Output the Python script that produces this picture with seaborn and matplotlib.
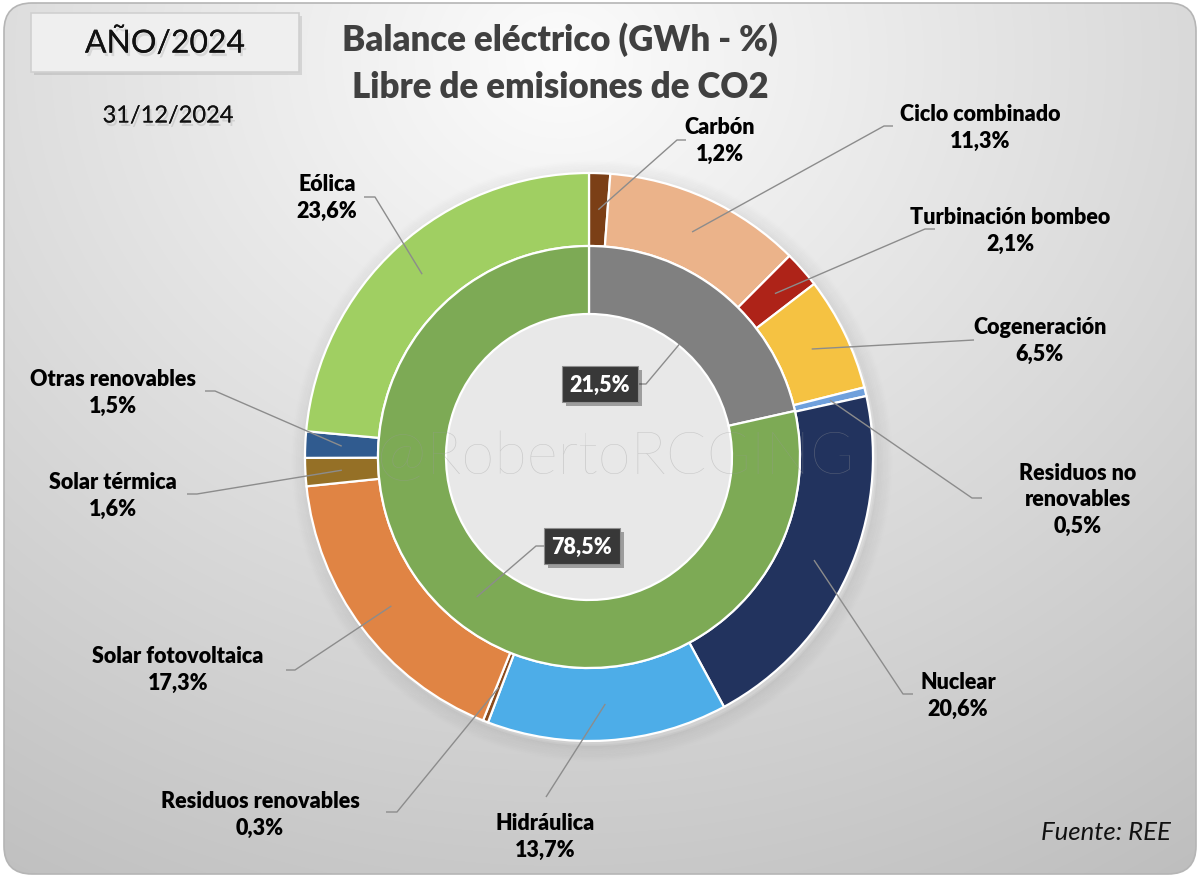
import numpy as np
import matplotlib
matplotlib.use("Agg")
import matplotlib.pyplot as plt
import matplotlib.patheffects as pe
from matplotlib.patches import FancyBboxPatch, Circle
import seaborn as sns

# ---------------- data ----------------
outer_labels = ["Carbón", "Ciclo combinado", "Turbinación bombeo", "Cogeneración",
                "Residuos no\nrenovables", "Nuclear", "Hidráulica", "Residuos renovables",
                "Solar fotovoltaica", "Solar térmica", "Otras renovables", "Eólica"]
outer_values = [1.2, 11.3, 2.1, 6.5, 0.5, 20.6, 13.7, 0.3, 17.3, 1.6, 1.5, 23.6]
outer_colors = ["#7B3F16", "#EBB38A", "#AE2318", "#F5C242", "#6FA0DC", "#22335E",
                "#4DADE8", "#8A4A1C", "#E08444", "#957026", "#305B8F", "#A0CF62"]

inner_labels = ["Emisoras de CO2", "Libre de emisiones de CO2"]
inner_values = [21.5, 78.5]
inner_colors = ["#808080", "#7DAA55"]

title_lines = ["Balance eléctrico (GWh - %)", "Libre de emisiones de CO2"]
period_text = "AÑO/2024"
date_text = "31/12/2024"
source_text = "Fuente: REE"
watermark = "@RobertoRCGING"

def pct(v):
    return f"{v:.1f}%".replace(".", ",")

# ---------------- layout (pixels, y downwards) ----------------
W, H = 1200, 879
CX, CY = 589, 458
R_OUT, R_MID, R_IN = 284, 211, 143

# label text centre, elbow point, end of horizontal segment
outer_layout = [
    ((720, 141), (677, 141), (686, 141)),
    ((980, 128), (884, 127), (893, 127)),
    ((1010, 231), (925, 230), (935, 230)),
    ((1040, 341), (974, 341), (974, 341)),
    ((1078, 500), (972, 499), (982, 499)),
    ((958, 696), (903, 695), (913, 695)),
    ((545, 837), (546, 798), (546, 798)),
    ((260, 815), (397, 813), (386, 813)),
    ((178, 670), (295, 671), (286, 671)),
    ((113, 496), (197, 495), (187, 495)),
    ((113, 393), (215, 392), (205, 392)),
    ((327, 198), (375, 198), (364, 198)),
]
inner_layout = [((600, 385), (646, 385), (635, 385), R_IN + 1),
                ((582, 547), (536, 547), (547, 547), 179)]

sns.set_theme(style="white")
plt.rcParams["font.family"] = ["Lato", "DejaVu Sans"]

fig = plt.figure(figsize=(12, 8.79), dpi=100)
fig.patch.set_facecolor("white")
ax = fig.add_axes([0, 0, 1, 1])
ax.set_xlim(0, W)
ax.set_ylim(H, 0)
ax.axis("off")

# background rounded panel with gradient
yy, xx = np.mgrid[0:H, 0:W]
d = np.sqrt((xx - 560.0) ** 2 + (1.15 * (yy - 60.0)) ** 2) / 1000.0
g = np.clip(252 - 55 * d, 185, 253) / 255.0
img = np.dstack([g, g, g])
panel = FancyBboxPatch((4, 4), W - 8, H - 8, boxstyle="round,pad=0,rounding_size=28",
                       transform=ax.transData, facecolor="none", edgecolor="#b5b5b5", lw=1.2, zorder=1)
im = ax.imshow(img, extent=(0, W, H, 0), zorder=0, interpolation="bilinear")
im.set_clip_path(panel)
ax.add_patch(panel)

# soft shadow around the donut
for k in range(10):
    ax.add_patch(Circle((CX + 3, CY + 4), R_OUT + 1 + k * 1.6, facecolor="none",
                        edgecolor="black", lw=2.2, alpha=0.035 * (1 - k / 10), zorder=1.5))

# hole
ax.add_patch(Circle((CX, CY), R_IN, facecolor="#e8e8e8", edgecolor="none", zorder=1.6))

# donut rings
wedges_out, _ = ax.pie(outer_values, colors=outer_colors, radius=R_OUT, center=(CX, CY),
                       startangle=-90, counterclock=True, frame=True,
                       wedgeprops=dict(width=R_OUT - R_MID, edgecolor="white", linewidth=1.6))
wedges_in, _ = ax.pie(inner_values, colors=inner_colors, radius=R_MID, center=(CX, CY),
                      startangle=-90, counterclock=True, frame=True,
                      wedgeprops=dict(width=R_MID - R_IN, edgecolor="white", linewidth=1.6))
for w in wedges_out + wedges_in:
    w.set_zorder(2)
ax.set_xlim(0, W)
ax.set_ylim(H, 0)
ax.set_aspect("auto")
ax.axis("off")

# watermark
ax.text(CX + 27, CY, watermark, ha="center", va="center", fontsize=43, fontweight="light",
        color="#9a9a9a", alpha=0.4, zorder=2.5)

LINE_C = "#8c8c8c"
r_anchor = (R_OUT + R_MID) / 2
for w, lab, val, (tpos, elbow, end) in zip(wedges_out, outer_labels, outer_values, outer_layout):
    th = np.deg2rad((w.theta1 + w.theta2) / 2)
    ax_pt = (CX + r_anchor * np.cos(th), CY + r_anchor * np.sin(th))
    ax.plot([ax_pt[0], elbow[0], end[0]], [ax_pt[1], elbow[1], end[1]],
            color=LINE_C, lw=1.0, zorder=3, solid_capstyle="butt")
    ax.text(tpos[0], tpos[1], f"{lab}\n{pct(val)}", ha="center", va="center",
            fontsize=15.5, fontweight="heavy", color="black", linespacing=1.3, zorder=4)

for w, val, (tpos, elbow, end, ra) in zip(wedges_in, inner_values, inner_layout):
    th = np.deg2rad((w.theta1 + w.theta2) / 2)
    ax_pt = (CX + ra * np.cos(th), CY + ra * np.sin(th))
    ax.plot([ax_pt[0], elbow[0], end[0]], [ax_pt[1], elbow[1], end[1]],
            color=LINE_C, lw=1.0, zorder=3)
    t = ax.text(tpos[0], tpos[1], pct(val), ha="center", va="center", fontsize=15.5,
                fontweight="heavy", color="white", zorder=4,
                bbox=dict(boxstyle="square,pad=0.36", fc="#383838", ec="#8f8f8f", lw=0.8))
    t.get_bbox_patch().set_path_effects([pe.withSimplePatchShadow(offset=(3, -3), alpha=0.35)])

# titles
ax.text(560, 40, title_lines[0], ha="center", va="center", fontsize=25,
        fontweight="heavy", color="#404040", zorder=4)
ax.text(560, 88, title_lines[1], ha="center", va="center", fontsize=25,
        fontweight="heavy", color="#404040", zorder=4)

# period box
box = FancyBboxPatch((31, 14), 268, 59, boxstyle="square,pad=0", facecolor="#efefef",
                     edgecolor="#d0d0d0", lw=1.2, zorder=3)
box.set_path_effects([pe.withSimplePatchShadow(offset=(2, -2), alpha=0.15)])
ax.add_patch(box)
shadow = [pe.withSimplePatchShadow(offset=(1.5, -2.5), shadow_rgbFace="#777777", alpha=0.2), pe.Normal()]
ax.text(165, 44, period_text, ha="center", va="center", fontsize=23, color="#111111",
        zorder=4, path_effects=shadow)
ax.text(168, 117, date_text, ha="center", va="center", fontsize=17, color="#111111",
        zorder=4, path_effects=shadow)

ax.text(1106, 833, source_text, ha="center", va="center", fontsize=18.5, style="italic",
        color="#111111", zorder=4)

fig.savefig("out.png", dpi=100, facecolor="white")
